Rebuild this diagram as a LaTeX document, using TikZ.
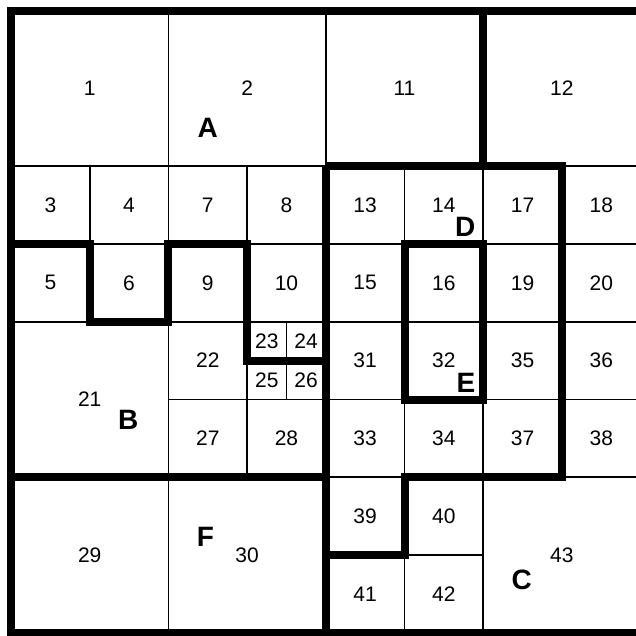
\documentclass[tikz,border=0pt]{standalone}
\usepackage{fontspec}
\setmainfont{Liberation Sans}
\usetikzlibrary{calc}

\tikzset{
  cellline/.style={line width=0.9pt},
  regionline/.style={line width=4pt, line join=miter},
  cellnum/.style={font=\fontsize{10.5}{12}\selectfont, inner sep=1pt},
  regionname/.style={font=\fontsize{14}{15}\selectfont\bfseries, inner sep=1pt}
}

\begin{document}
\begin{tikzpicture}[x=39.35pt, y=-38.9pt]
  \useasboundingbox (-0.14,-0.135) rectangle (7.93,8.04);
  % ---------------------------------------------------------------- thin cell edges
  \draw[cellline] (0,2) -- (8,2);
  \draw[cellline] (0,3) -- (8,3);
  \draw[cellline] (0,4) -- (8,4);
  \draw[cellline] (3,4.5) -- (4,4.5);
  \draw[cellline] (2,5) -- (8,5);
  \draw[cellline] (0,6) -- (8,6);
  \draw[cellline] (4,7) -- (6,7);
  \draw[cellline] (1,2) -- (1,4);
  \draw[cellline] (2,0) -- (2,8);
  \draw[cellline] (3,2) -- (3,6);
  \draw[cellline] (3.5,4) -- (3.5,5);
  \draw[cellline] (4,0) -- (4,8);
  \draw[cellline] (5,2) -- (5,8);
  \draw[cellline] (6,0) -- (6,8);
  \draw[cellline] (7,2) -- (7,6);
  % ---------------------------------------------------------------- thick region borders
  \draw[regionline] (0,0) rectangle (8,8);
  \draw[regionline] (0,3) -- (1,3) -- (1,4) -- (2,4) -- (2,3) -- (3,3) -- (3,4.5) -- (4,4.5);
  \draw[regionline] (0,6) -- (4,6);
  \draw[regionline] (4,2) -- (4,8);
  \draw[regionline] (6,0) -- (6,2);
  \draw[regionline] (4,2) -- (7,2) -- (7,6) -- (5,6) -- (5,7) -- (4,7);
  \draw[regionline] (5,3) rectangle (6,5);
  % ---------------------------------------------------------------- cell numbers
  \foreach \n/\cx/\cy in {1/1/1, 2/3/1, 11/5/1, 12/7/1,
      3/0.5/2.5, 4/1.5/2.5, 7/2.5/2.5, 8/3.5/2.5, 13/4.5/2.5, 14/5.5/2.5, 17/6.5/2.5, 18/7.5/2.5,
      5/0.5/3.5, 6/1.5/3.5, 9/2.5/3.5, 10/3.5/3.5, 15/4.5/3.5, 16/5.5/3.5, 19/6.5/3.5, 20/7.5/3.5,
      21/1/5, 22/2.5/4.5, 23/3.25/4.25, 24/3.75/4.25, 25/3.25/4.75, 26/3.75/4.75,
      31/4.5/4.5, 32/5.5/4.5, 35/6.5/4.5, 36/7.5/4.5,
      27/2.5/5.5, 28/3.5/5.5, 33/4.5/5.5, 34/5.5/5.5, 37/6.5/5.5, 38/7.5/5.5,
      29/1/7, 30/3/7, 39/4.5/6.5, 40/5.5/6.5, 41/4.5/7.5, 42/5.5/7.5, 43/7/7}
    \node[cellnum] (c\n) at (\cx,\cy) {\n};
  % ---------------------------------------------------------------- region names
  \node[regionname] (rA) at (2.5,1.51) {A};
  \node[regionname] (rB) at (1.49,5.26) {B};
  \node[regionname] (rC) at (6.49,7.32) {C};
  \node[regionname] (rD) at (5.77,2.78) {D};
  \node[regionname] (rE) at (5.78,4.79) {E};
  \node[regionname] (rF) at (2.47,6.77) {F};
\end{tikzpicture}
\end{document}
